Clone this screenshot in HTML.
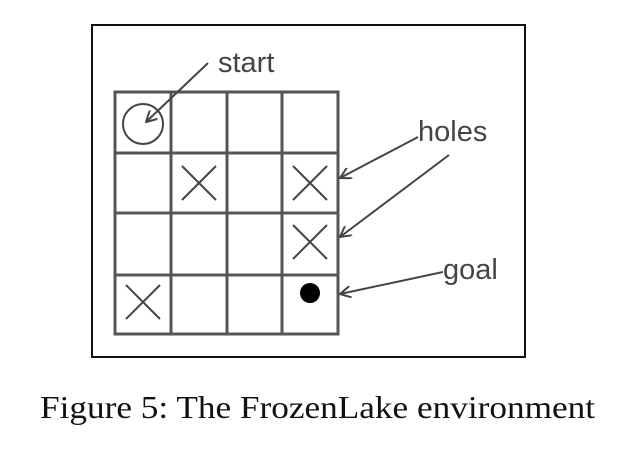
<!DOCTYPE html>
<html><head><meta charset="utf-8"><style>
html,body{margin:0;padding:0;background:#fff;}
svg{display:block;}
</style></head><body>
<svg width="629" height="457" viewBox="0 0 629 457" xmlns="http://www.w3.org/2000/svg">
<defs>
<marker id="ah" viewBox="0 0 12 12" refX="11" refY="6" markerWidth="12" markerHeight="12" markerUnits="userSpaceOnUse" orient="auto">
<path d="M0,0 L11,6 L0,12" fill="none" stroke="#444" stroke-width="2"/>
</marker>
</defs>
<rect x="92" y="25" width="433" height="332" fill="#fff" stroke="#111" stroke-width="2"/>
<g stroke="#555" stroke-width="3" fill="none">
<rect x="115" y="92" width="223" height="242"/>
<line x1="171" y1="92" x2="171" y2="334"/>
<line x1="227" y1="92" x2="227" y2="334"/>
<line x1="282" y1="92" x2="282" y2="334"/>
<line x1="115" y1="153" x2="338" y2="153"/>
<line x1="115" y1="213" x2="338" y2="213"/>
<line x1="115" y1="275" x2="338" y2="275"/>
</g>
<circle cx="143" cy="124" r="20" fill="none" stroke="#444" stroke-width="2"/>
<g stroke="#444" stroke-width="2">
<path d="M182,166 L216,200 M216,166 L182,200"/>
<path d="M293,166 L327,200 M327,166 L293,200"/>
<path d="M293,225 L327,259 M327,225 L293,259"/>
<path d="M126,285 L160,319 M160,285 L126,319"/>
</g>
<circle cx="310" cy="293" r="10" fill="#000"/>
<g stroke="#444" stroke-width="2" fill="none" marker-end="url(#ah)">
<line x1="208" y1="63" x2="146" y2="122"/>
<line x1="418" y1="137" x2="340" y2="178"/>
<line x1="449" y1="155" x2="340" y2="237"/>
<line x1="443" y1="272" x2="340" y2="294"/>
</g>
<g font-family="Liberation Sans, sans-serif" font-size="29" fill="#444">
<text x="218" y="72">start</text>
<text x="418" y="141">holes</text>
<text x="443" y="279">goal</text>
</g>
<text x="40" y="418" font-family="Liberation Serif, serif" font-size="32" fill="#111" textLength="555" lengthAdjust="spacingAndGlyphs">Figure 5: The FrozenLake environment</text>
</svg>
</body></html>
